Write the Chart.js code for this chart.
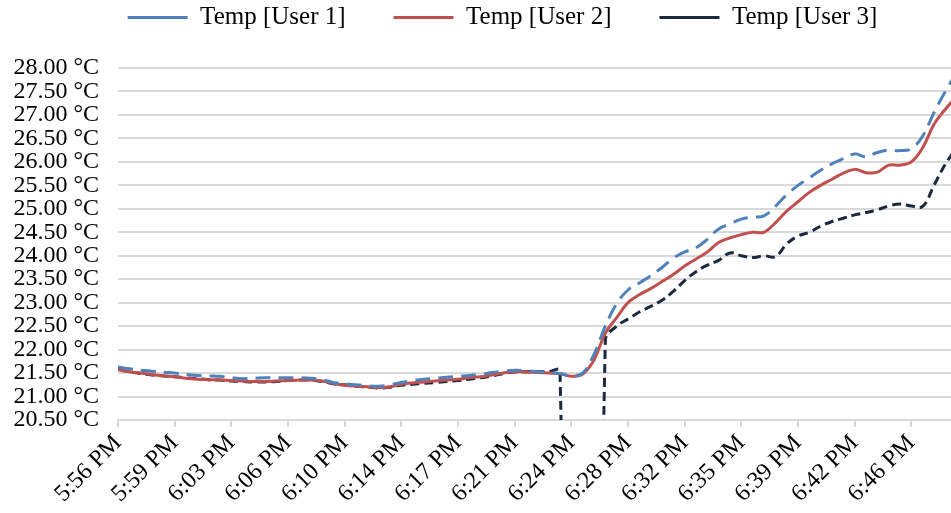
<!DOCTYPE html>
<html>
<head>
<meta charset="utf-8">
<script src="https://cdn.jsdelivr.net/npm/chart.js@4.4.1/dist/chart.umd.min.js"></script>
<style>
  html, body { margin: 0; padding: 0; background: #fff; overflow: hidden; }
</style>
</head>
<body>
<canvas id="myChart" width="951" height="513"></canvas>
<script>
// readings every few seconds, one tick label every 5 readings
const timeLabels = ['5:56 PM', '5:59 PM', '6:03 PM', '6:06 PM', '6:10 PM', '6:14 PM', '6:17 PM', '6:21 PM',
    '6:24 PM', '6:28 PM', '6:32 PM', '6:35 PM', '6:39 PM', '6:42 PM', '6:46 PM'];

const user1 = [21.63, 21.59, 21.56, 21.54, 21.52, 21.50, 21.47, 21.45, 21.44, 21.43,
    21.40, 21.38, 21.39, 21.40, 21.40, 21.40, 21.40, 21.39, 21.36, 21.30,
    21.27, 21.25, 21.23, 21.22, 21.25, 21.30, 21.34, 21.37, 21.39, 21.41,
    21.43, 21.45, 21.47, 21.51, 21.54, 21.56, 21.55, 21.53, 21.51, 21.49,
    21.44, 21.50, 21.90, 22.50, 22.98, 23.27, 23.42, 23.57, 23.75, 23.95,
    24.08, 24.17, 24.35, 24.57, 24.68, 24.78, 24.82, 24.85, 25.05, 25.30,
    25.50, 25.66, 25.82, 25.96, 26.07, 26.17, 26.11, 26.20, 26.25, 26.24,
    26.28, 26.55, 27.05, 27.50, 27.90];

const user2 = [21.57, 21.53, 21.50, 21.47, 21.44, 21.42, 21.39, 21.37, 21.36, 21.35,
    21.34, 21.33, 21.32, 21.32, 21.33, 21.34, 21.35, 21.35, 21.33, 21.28,
    21.24, 21.22, 21.21, 21.19, 21.21, 21.26, 21.29, 21.31, 21.33, 21.35,
    21.37, 21.40, 21.42, 21.46, 21.50, 21.53, 21.52, 21.51, 21.50, 21.49,
    21.43, 21.48, 21.78, 22.35, 22.68, 23.00, 23.17, 23.30, 23.45, 23.60,
    23.78, 23.93, 24.08, 24.28, 24.38, 24.45, 24.50, 24.50, 24.70, 24.95,
    25.15, 25.35, 25.50, 25.63, 25.76, 25.84, 25.77, 25.78, 25.93, 25.93,
    26.00, 26.30, 26.80, 27.12, 27.40];

// logger dropped out for a few readings (0)
const user3 = [21.58, 21.53, 21.49, 21.46, 21.44, 21.42, 21.40, 21.38, 21.36, 21.35,
    21.33, 21.32, 21.31, 21.31, 21.32, 21.34, 21.35, 21.35, 21.32, 21.27,
    21.25, 21.22, 21.20, 21.18, 21.20, 21.24, 21.26, 21.28, 21.30, 21.32,
    21.34, 21.37, 21.40, 21.44, 21.49, 21.52, 21.53, 21.53, 21.53, 21.55,
    0, 0, 0, 22.20, 22.50, 22.65, 22.80, 22.92, 23.05, 23.24,
    23.47, 23.66, 23.80, 23.90, 24.06, 24.00, 23.96, 24.00, 23.98, 24.25,
    24.42, 24.50, 24.63, 24.73, 24.80, 24.87, 24.92, 24.98, 25.06, 25.10,
    25.06, 25.05, 25.50, 25.95, 26.30];

const seriesNames = ['Temp [User 1]', 'Temp [User 2]', 'Temp [User 3]'];

function points(arr){
    return arr.map((v, i) => ({x: i, y: v}));
}

Chart.defaults.font.family = "'Liberation Serif', serif";
Chart.defaults.font.size = 24;
Chart.defaults.color = '#000';

// squeeze the legend into the strip above the plot
// (shift its box while drawing, the legend clips to its own box)
const legendPatch = {
    id: 'legendPatch',
    afterInit(chart){
        const legend = chart.legend;
        const fit = legend.fit;
        legend.fit = function(){
            fit.call(this);
            this.height = 68;
        };
        const draw = legend.draw;
        legend.draw = function(){
            const t = this.top, l = this.left, r = this.right;
            this.top = t - 43;
            this.left = l + 27;
            this.right = r + 27;
            draw.apply(this, arguments);
            this.top = t;
            this.left = l;
            this.right = r;
        };
    }
};

const ctx = document.getElementById('myChart').getContext('2d');
const myChart = new Chart(ctx, {
    type: 'line',
    data: {
        datasets: [{
            label: seriesNames[0],
            data: points(user1),
            borderColor: '#4f81bd',
            backgroundColor: '#4f81bd',
            borderWidth: 3,
            borderDash: [15, 8],
            pointRadius: 0,
            tension: 0.4
        }, {
            label: seriesNames[1],
            data: points(user2),
            borderColor: '#c0504d',
            backgroundColor: '#c0504d',
            borderWidth: 3,
            pointRadius: 0,
            tension: 0.4
        }, {
            label: seriesNames[2],
            data: points(user3),
            borderColor: '#1b2840',
            backgroundColor: '#1b2840',
            borderWidth: 3,
            borderDash: [9, 5],
            pointRadius: 0,
            tension: 0.4
        }]
    },
    options: {
        responsive: false,
        animation: false,
        devicePixelRatio: 1,
        layout: { padding: 0 },
        plugins: {
            legend: {
                position: 'top',
                labels: {
                    usePointStyle: true,
                    pointStyle: 'line',
                    pointStyleWidth: 60,
                    padding: 48,
                    font: { size: 25 },
                    color: '#000'
                }
            },
            tooltip: { enabled: false }
        },
        scales: {
            x: {
                type: 'linear',
                min: 0,
                max: 73.5,
                afterFit: (s) => { s.height = 93; },
                grid: {
                    drawOnChartArea: false,
                    drawTicks: true,
                    tickLength: 7,
                    color: '#d9d9d9',
                    lineWidth: 2
                },
                border: { color: '#d9d9d9', width: 2 },
                ticks: {
                    stepSize: 5,
                    includeBounds: false,
                    autoSkip: false,
                    maxRotation: 45,
                    minRotation: 45,
                    padding: 2,
                    callback: (v) => timeLabels[Math.round(v / 5)]
                }
            },
            y: {
                min: 20.5,
                max: 28,
                afterFit: (s) => { s.width = 118; },
                grid: {
                    color: '#d9d9d9',
                    lineWidth: 2,
                    drawTicks: false
                },
                border: { display: false },
                ticks: {
                    stepSize: 0.5,
                    autoSkip: false,
                    padding: 19,
                    callback: (v) => v.toFixed(2) + ' °C'
                }
            }
        }
    },
    plugins: [legendPatch]
});
</script>
</body>
</html>
